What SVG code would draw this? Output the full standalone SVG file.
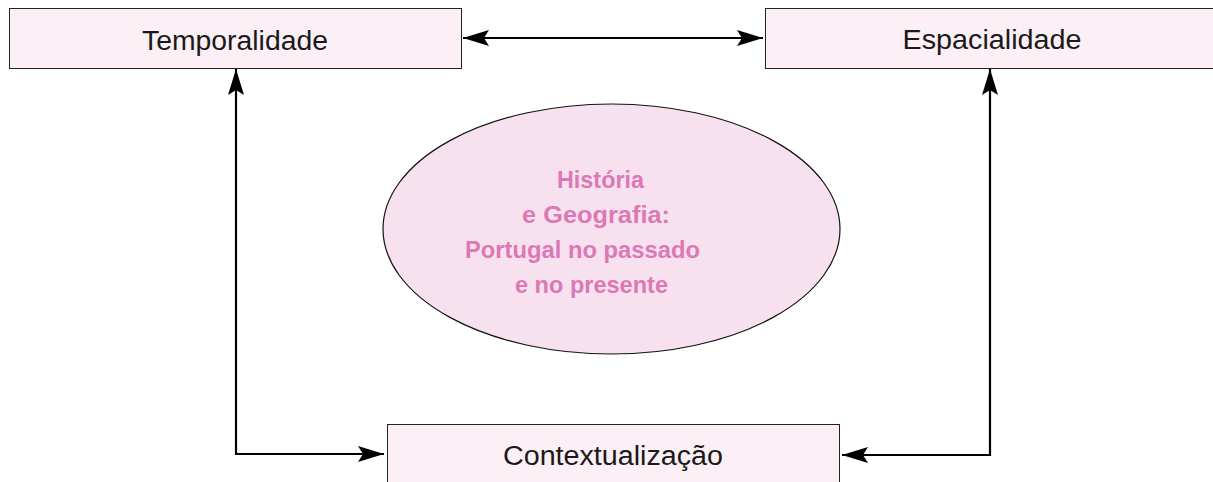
<svg xmlns="http://www.w3.org/2000/svg" width="1213" height="482" viewBox="0 0 1213 482">
<style>
.box{fill:#fcf0f6;stroke:#222;stroke-width:1}
.lbl{font-family:"Liberation Sans",Arial,sans-serif;font-size:27px;fill:#1a1a1a;text-anchor:middle}
.conn{fill:none;stroke:#000;stroke-width:2.2}
.ell{fill:#f8e1ee;stroke:#111;stroke-width:1.2}
.pt{font-family:"Liberation Sans",Arial,sans-serif;font-weight:bold;font-size:24.5px;fill:#dc78b6}
</style>
<defs>
<marker id="ah" viewBox="0 0 26 16" refX="26" refY="8" markerWidth="26" markerHeight="16" markerUnits="userSpaceOnUse" orient="auto-start-reverse">
<path d="M0,0 L26,8 L0,16 L5,8 Z" fill="#000"/>
</marker>
</defs>
<rect width="1213" height="482" fill="#fff"/>
<g id="connectors">
<line class="conn" x1="463" y1="38" x2="763" y2="38" marker-start="url(#ah)" marker-end="url(#ah)"/>
<polyline class="conn" points="236,69 236,454 384,454" marker-start="url(#ah)" marker-end="url(#ah)"/>
<polyline class="conn" points="990,69 990,455 842,455" marker-start="url(#ah)" marker-end="url(#ah)"/>
</g>
<g id="temporalidade">
<rect class="box" x="9.5" y="8.5" width="452" height="60"/>
<text class="lbl" x="235" y="50" textLength="186" lengthAdjust="spacingAndGlyphs">Temporalidade</text>
</g>
<g id="espacialidade">
<rect class="box" x="765.5" y="8.5" width="460" height="60"/>
<text class="lbl" x="992" y="49" textLength="179" lengthAdjust="spacingAndGlyphs">Espacialidade</text>
</g>
<g id="contextualizacao">
<rect class="box" x="387.5" y="424.5" width="452" height="70"/>
<text class="lbl" x="613" y="465" textLength="220" lengthAdjust="spacingAndGlyphs">Contextualização</text>
</g>
<g id="centro">
<ellipse class="ell" cx="611.5" cy="229" rx="228.5" ry="125"/>
<text class="pt" x="557" y="188" textLength="87" lengthAdjust="spacingAndGlyphs">História</text>
<text class="pt" x="522" y="223" textLength="148" lengthAdjust="spacingAndGlyphs">e Geografia:</text>
<text class="pt" x="465" y="258" textLength="235" lengthAdjust="spacingAndGlyphs">Portugal no passado</text>
<text class="pt" x="515" y="293" textLength="153" lengthAdjust="spacingAndGlyphs">e no presente</text>
</g>
</svg>
